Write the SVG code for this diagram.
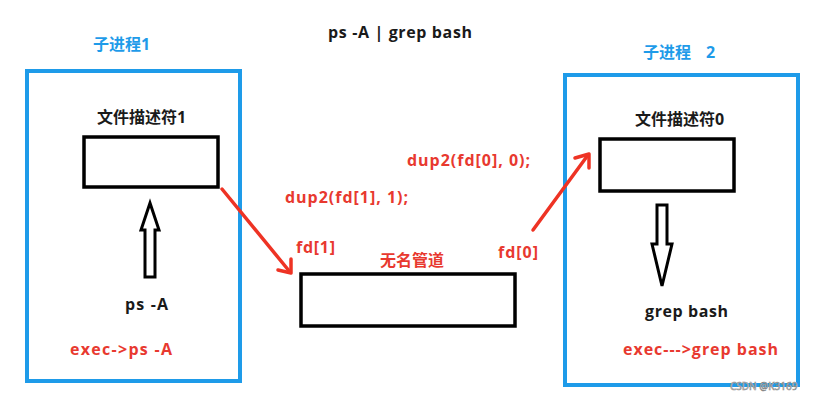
<svg xmlns="http://www.w3.org/2000/svg" width="820" height="400" viewBox="0 0 820 400">
<style>
.proc{fill:none;stroke:#1e9be9;stroke-width:4}
.box{fill:#fff;stroke:#000;stroke-width:3.5}
.t{font-family:"Open Sans","Noto Sans CJK SC",sans-serif;font-weight:bold;font-size:16px;fill:#1a1a1a}
.r{fill:#e8392f}
.b{fill:#1e9be9}
.red{fill:none;stroke:#ee3324;stroke-width:3.5;stroke-linecap:round;stroke-linejoin:round}
.hollow{fill:#fff;stroke:#000;stroke-width:3;stroke-linejoin:miter}
</style>
<rect width="820" height="400" fill="#fff"/>
<text class="t" x="400" y="38" text-anchor="middle" textLength="144">ps -A | grep bash</text>
<g id="proc1">
<rect class="proc" x="27" y="71" width="213" height="310"/>
<text class="t b" x="93" y="50">子进程1</text>
</g>
<g id="proc2">
<rect class="proc" x="565" y="75" width="233" height="310"/>
<text class="t b" x="643" y="58">子进程<tspan x="706">2</tspan></text>
</g>
<g id="fd1">
<rect class="box" x="84" y="137" width="134" height="50"/>
<text class="t" x="97" y="123">文件描述符1</text>
</g>
<g id="fd0">
<rect class="box" x="600" y="139" width="134" height="52"/>
<text class="t" x="635" y="125">文件描述符0</text>
</g>
<g id="pipe">
<rect class="box" x="301" y="274" width="214" height="52"/>
<text class="t r" x="380" y="266" font-size="17">无名管道</text>
</g>
<g id="psA">
<text class="t" x="125" y="310" textLength="43">ps -A</text>
<text class="t r" x="70" y="355" textLength="102">exec-&gt;ps -A</text>
</g>
<g id="grep">
<text class="t" x="645" y="317" textLength="83">grep bash</text>
<text class="t r" x="623" y="355" textLength="155">exec---&gt;grep bash</text>
</g>
<g id="connectors">
<path class="hollow" d="M150,203 L159,230 L155,230 L155,277 L145,277 L145,230 L141,230 Z"/>
<path class="hollow" d="M657,205 L667,205 L667,244 L672,244 L662,286 L652,244 L657,244 Z"/>
<path class="red" d="M222,189 L290,272"/>
<path class="red" d="M278,270 L291,273 L291,259"/>
<path class="red" d="M533,230 L588,155"/>
<path class="red" d="M575,158 L589,154 L589,168"/>
</g>
<text class="t r" x="285" y="203" textLength="123">dup2(fd[1], 1);</text>
<text class="t r" x="407" y="166" textLength="123">dup2(fd[0], 0);</text>
<text class="t r" x="296" y="253" textLength="39">fd[1]</text>
<text class="t r" x="498" y="258" textLength="40">fd[0]</text>
<text x="730" y="390" font-family="Noto Sans, sans-serif" font-size="10" fill="#fff" stroke="#888" stroke-width="0.6">CSDN @K3169</text>
</svg>
